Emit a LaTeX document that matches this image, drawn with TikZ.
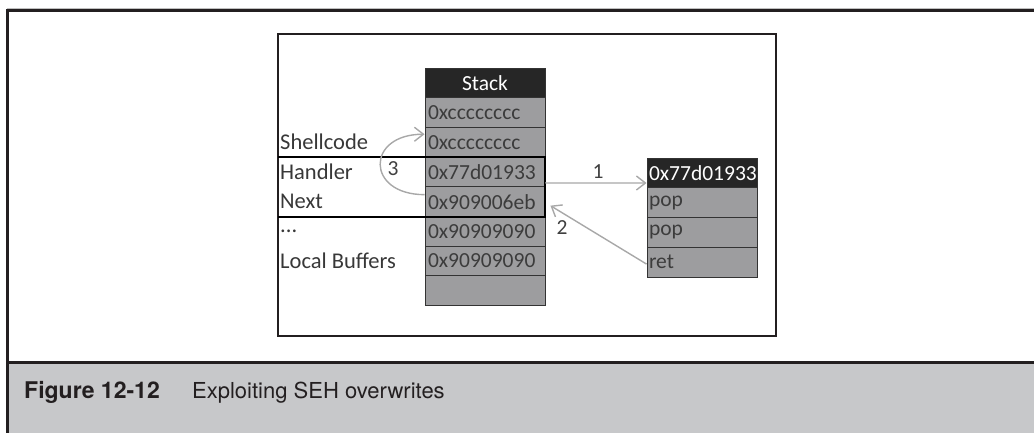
\documentclass[tikz,border=0pt]{standalone}
\usepackage{fontspec}
\usepackage{xcolor}
\usepackage{tikz}
\usetikzlibrary{arrows.meta,calc}
\newfontfamily\calib{Carlito}
\newfontfamily\helv{TeX Gyre Heros}
\definecolor{inkdark}{RGB}{35,31,32}
\definecolor{cellgray}{RGB}{157,157,159}
\definecolor{headdark}{RGB}{38,38,38}
\definecolor{celltext}{RGB}{60,60,60}
\definecolor{arrowgray}{RGB}{168,168,168}
\definecolor{capgray}{RGB}{199,200,202}

\begin{document}
\begin{tikzpicture}[
        x=1pt, y=-1pt,
        frame/.style={draw=inkdark, line width=3pt},
        cell/.style={draw=black!80, line width=0.9pt, fill=cellgray, text=celltext,
          minimum width=120pt, minimum height=29.7pt, text width=114pt, inner sep=3pt,
          align=left, font=\calib\fontsize{21.5}{23}\selectfont},
        head/.style={cell, fill=headdark, text=white},
        gadcell/.style={cell, minimum width=110pt, text width=106pt, inner sep=2pt},
        lbl/.style={anchor=west, inner sep=2pt, text=black!78, font=\calib\fontsize{22.5}{24}\selectfont},
        num/.style={inner sep=1pt, text=black!75, font=\calib\fontsize{21.5}{23}\selectfont},
        seh/.style={draw=black, line width=2pt},
        flow/.style={draw=arrowgray, line width=1.4pt, -{Straight Barb[length=9pt,width=14pt]}},
        captext/.style={anchor=base west, inner sep=0pt, text=inkdark}
      ]
        \useasboundingbox (0,0) rectangle (1034,433);
        % page frame and caption band
        \fill[capgray] (7,363) rectangle (1034,433);
        \draw[black!25, line width=0.8pt] (7,8.4) -- (1034,8.4);
        \draw[frame] (1034,11) -- (7,11) -- (7,433);
        \draw[frame] (7,362) -- (1034,362);
        \node[captext, font=\helv\bfseries\fontsize{23}{26}\selectfont] (fig) at (24,398) {Figure 12-12};
        \node[captext, font=\helv\fontsize{22}{26}\selectfont] (title) at (192,398) {Exploiting SEH overwrites};
        % picture box
        \draw[draw=inkdark, line width=1.4pt] (278,34) rectangle (776,336);
        \coordinate (lx) at (278,0);
        % the stack
        \node[head, align=center] (stk) at (485,82.85) {Stack};
        \node[cell] (cc1) at (485,112.55) {0xcccccccc};
        \node[cell] (cc2) at (485,142.25) {0xcccccccc};
        \node[cell] (hdl) at (485,171.95) {0x77d01933};
        \node[cell] (nxt) at (485,201.65) {0x909006eb};
        \node[cell] (nop1) at (485,231.35) {0x90909090};
        \node[cell] (nop2) at (485,261.05) {0x90909090};
        \node[cell] (emp) at (485,290.75) {};
        % labels on the left
        \node[lbl] (lsh) at (cc2.west -| lx) {Shellcode};
        \node[lbl] (lhd) at (hdl.west -| lx) {Handler};
        \node[lbl] (lnx) at (nxt.west -| lx) {Next};
        \node[lbl] (ldt) at (nop1.west -| lx) {...};
        \node[lbl] (lbf) at (nop2.west -| lx) {Local Buffers};
        % SEH record
        \draw[seh] (lx |- hdl.north) -- (hdl.north east) -- (nxt.south east) -- (lx |- nxt.south);
        % pop pop ret gadget
        \node[gadcell, fill=headdark, text=white] (gad) at (702,173) {0x77d01933};
        \node[gadcell] (pop1) at (702,202.7) {pop};
        \node[gadcell] (pop2) at (702,232.4) {pop};
        \node[gadcell] (ret) at (702,262.1) {ret};
        % the three jumps
        \draw[flow] ([yshift=-11pt]hdl.east) -- ([yshift=-10pt]gad.west) node[num, pos=0.52, above=3pt] (n1) {1};
        \draw[flow] ([yshift=-2pt]ret.west) -- ([xshift=5pt,yshift=-4pt]nxt.east) node[num, pos=0.88, below=6pt] (n2) {2};
        \draw[flow] ([yshift=7pt]nxt.west) to[out=180, in=180, looseness=2.5] ([yshift=8pt]cc2.west);
        \node[num] (n3) at (393,169) {3};
      \end{tikzpicture}
\end{document}
